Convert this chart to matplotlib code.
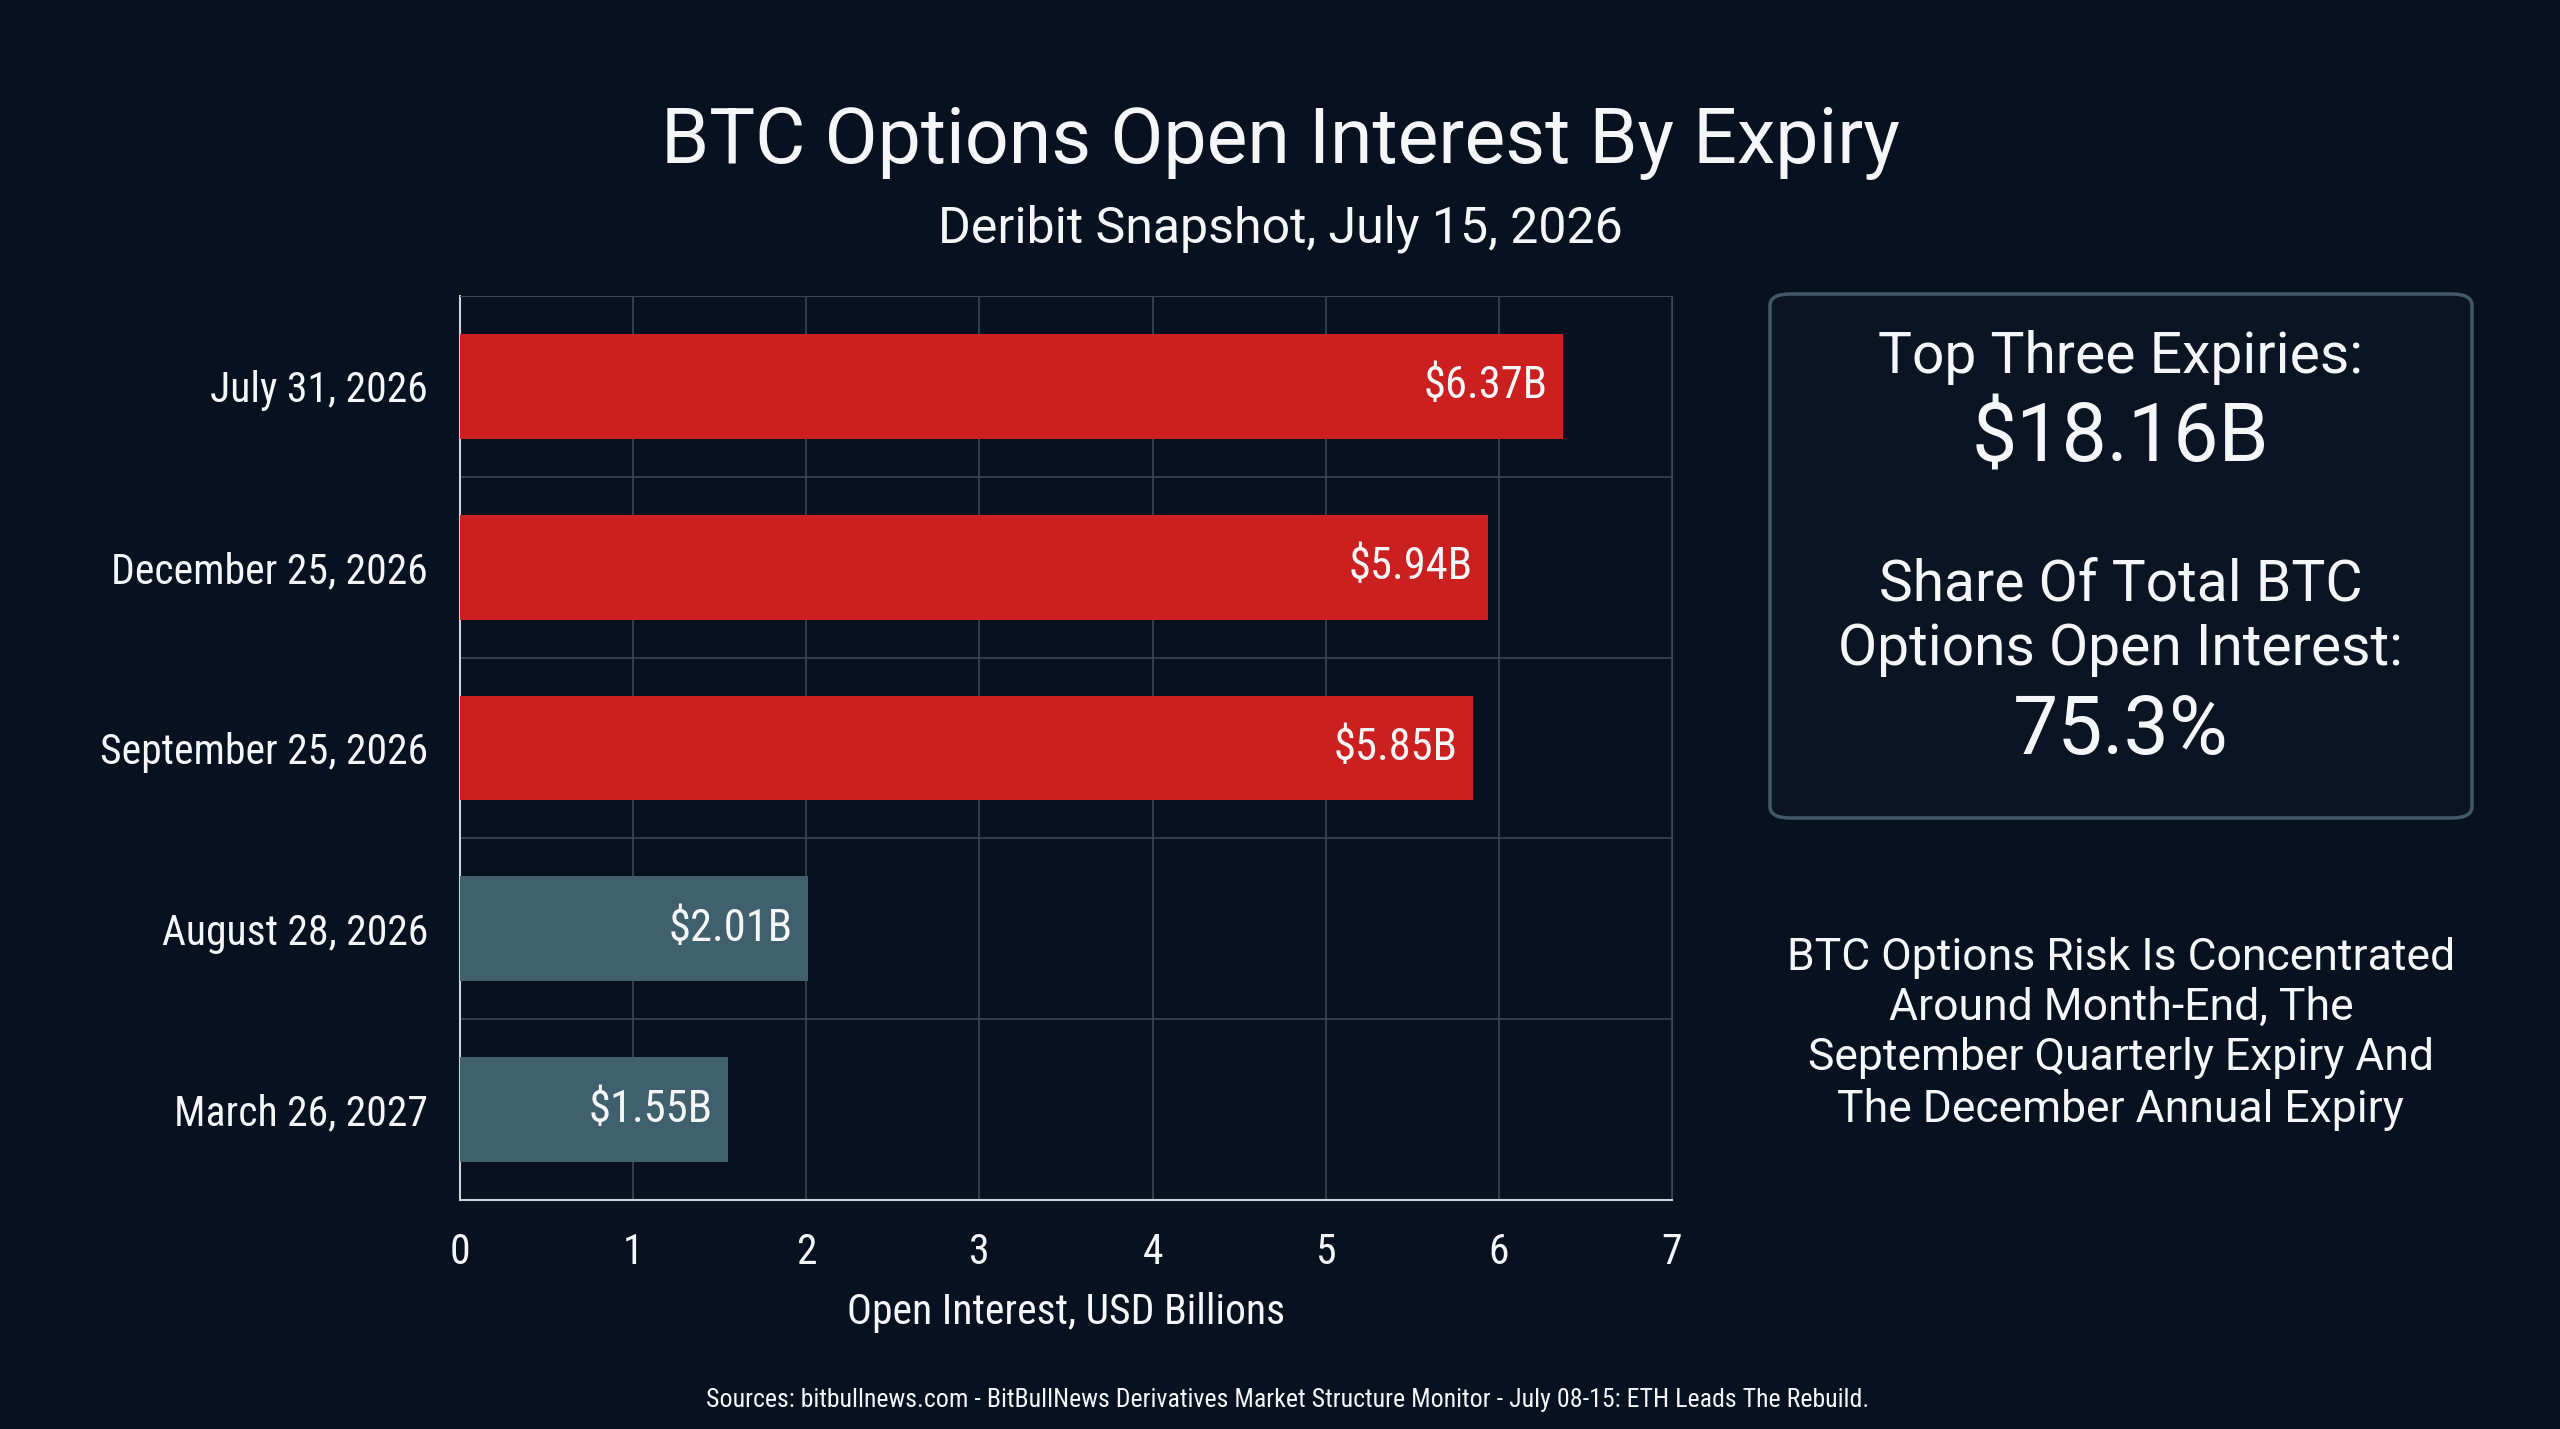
import matplotlib.pyplot as plt
from matplotlib.patches import FancyBboxPatch

expiries = ["July 31, 2026", "December 25, 2026", "September 25, 2026",
            "August 28, 2026", "March 26, 2027"]
open_interest = [6.37, 5.94, 5.85, 2.01, 1.55]
highlight = [True, True, True, False, False]
share_of_total = "75.3%"
x_ticks = [0, 1, 2, 3, 4, 5, 6, 7]

title = "BTC Options Open Interest By Expiry"
subtitle = "Deribit Snapshot, July 15, 2026"
note = ("BTC Options Risk Is Concentrated\nAround Month-End, The\n"
        "September Quarterly Expiry And\nThe December Annual Expiry")
source = ("Sources: bitbullnews.com - BitBullNews Derivatives Market Structure "
          "Monitor - July 08-15: ETH Leads The Rebuild.")

BG = "#08111f"
RED = "#cc2020"
SLATE = "#41606d"
GRID = "#3a4756"
WHITE = "#f4f6f8"
COND = ["Roboto Condensed", "Liberation Sans Narrow", "Roboto", "DejaVu Sans"]
REG = ["Roboto", "DejaVu Sans"]

plt.rcParams['font.family'] = COND

fig = plt.figure(figsize=(25.6, 14.29), dpi=100, facecolor=BG)
ax = fig.add_axes([460 / 2560, 1 - 1200 / 1429, (1672 - 460) / 2560, (1200 - 296) / 1429])
ax.set_facecolor(BG)

ypos = list(range(len(expiries)))
colors = [RED if h else SLATE for h in highlight]
ax.barh(ypos, open_interest, height=0.58, color=colors, zorder=3)
for y, v in zip(ypos, open_interest):
    ax.text(v - 0.09, y, f"${v:.2f}B", ha="right", va="center",
            color=WHITE, fontsize=32, zorder=4)

ax.set_xlim(0, 7)
ax.set_ylim(len(expiries) - 0.5, -0.5)
ax.set_xticks(x_ticks)
ax.set_xticklabels([str(t) for t in x_ticks])
ax.set_yticks(ypos)
ax.set_yticklabels(expiries)
ax.set_yticks([y + 0.5 for y in ypos[:-1]], minor=True)
ax.grid(axis="x", color=GRID, linewidth=1.2, zorder=0)
ax.grid(axis="y", which="minor", color=GRID, linewidth=1.2, zorder=0)
ax.tick_params(axis="both", which="both", length=0, colors=WHITE, labelsize=30)
ax.tick_params(axis="x", pad=23)
ax.tick_params(axis="y", pad=23)
for side in ["top", "right"]:
    ax.spines[side].set_color(GRID)
for side in ["left", "bottom"]:
    ax.spines[side].set_color("#c9d2da")
    ax.spines[side].set_linewidth(1.5)
ax.set_xlabel("Open Interest, USD Billions", color=WHITE, fontsize=30, labelpad=14)

fig.text(0.5, 1 - 87 / 875, title, ha="center", va="center", color=WHITE,
         fontsize=55.5, family=REG)
fig.text(0.5, 1 - 140 / 875, subtitle, ha="center", va="center", color=WHITE,
         fontsize=36, family=REG)

# summary box
box = FancyBboxPatch((1770 / 2560, 1 - 818 / 1429), (2472 - 1770) / 2560, (818 - 294) / 1429,
                     boxstyle="round,pad=0,rounding_size=0.008", transform=fig.transFigure,
                     facecolor="#0a1422", edgecolor="#42596a", linewidth=2.5)
fig.patches.append(box)
cx = 1299 / 1568
top3 = sum(v for v, h in zip(open_interest, highlight) if h)
fig.text(cx, 1 - 219 / 875, "Top Three Expiries:", ha="center", va="center",
         color=WHITE, fontsize=41, family=REG)
fig.text(cx, 1 - 269 / 875, f"${top3:.2f}B", ha="center", va="center",
         color=WHITE, fontsize=58, family=REG)
fig.text(cx, 1 - 358 / 875, "Share Of Total BTC", ha="center", va="center",
         color=WHITE, fontsize=41, family=REG)
fig.text(cx, 1 - 398 / 875, "Options Open Interest:", ha="center", va="center",
         color=WHITE, fontsize=41, family=REG)
fig.text(cx, 1 - 448 / 875, share_of_total, ha="center", va="center",
         color=WHITE, fontsize=58, family=REG)

fig.text(cx, 1 - 633 / 875, note, ha="center", va="center", color=WHITE,
         fontsize=32, family=REG, linespacing=1.25)
fig.text(0.503, 1 - 857 / 875, source, ha="center", va="center", color=WHITE,
         fontsize=18.6)

fig.savefig("out.png", dpi=100, facecolor=BG)
